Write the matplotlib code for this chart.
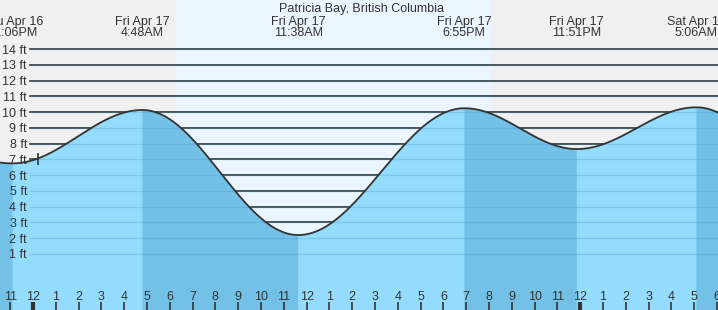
import matplotlib
matplotlib.use('agg')
import matplotlib.pyplot as plt
import numpy as np

plt.rcParams['font.family'] = ['Liberation Sans', 'DejaVu Sans']

# tide extremes, hours from Fri Apr 17 00:00 (first and last are off-chart)
tide_hours = [-7.3, -0.9, 4.8, 11.633, 18.917, 23.85, 29.1, 36.5]
tide_feet = [9.6, 6.75, 10.14, 2.2, 10.25, 7.66, 10.31, 1.8]
tide_days = ['Thu Apr 16', 'Thu Apr 16', 'Fri Apr 17', 'Fri Apr 17',
             'Fri Apr 17', 'Fri Apr 17', 'Sat Apr 18', 'Sat Apr 18']
tide_clock = ['4:40PM', '11:06PM', '4:48AM', '11:38AM',
              '6:55PM', '11:51PM', '5:06AM', '12:30PM']

sunrise = 6.27
sunset = 20.09
now_hour = 0.2
now_feet = 7.0
feet_ticks = list(range(1, 15))
hour_ticks = list(range(-1, 31))

title = 'Patricia Bay, British Columbia'

W, H = 718, 310
x0, px_hr = 33.0, 22.8          # pixel of Fri 00:00, pixels per hour
y0, px_ft = 269.7, 15.75        # pixel of 0 ft, pixels per foot
t_lo, t_hi = -x0 / px_hr, (W - x0) / px_hr
f_lo, f_hi = (y0 - H) / px_ft, y0 / px_ft

def tide_curve(t):
    h = np.zeros_like(t)
    for a, b, ha, hb in zip(tide_hours[:-1], tide_hours[1:], tide_feet[:-1], tide_feet[1:]):
        m = (t >= a) & (t <= b)
        h[m] = ha + (hb - ha) * (1 - np.cos(np.pi * (t[m] - a) / (b - a))) / 2
    return h

def ypx(p):
    # pixel row from the top -> axes fraction
    return 1 - p / H

t = np.linspace(t_lo, t_hi, 3000)
h = tide_curve(t)
falling = np.gradient(h) < 0

fig = plt.figure(figsize=(W / 100, H / 100), dpi=100)
ax = fig.add_axes([0, 0, 1, 1])
ax.set_xlim(t_lo, t_hi)
ax.set_ylim(f_lo, f_hi)
ax.axis('off')
fig.patch.set_facecolor('#f0f0f0')
ax.axvspan(sunrise, sunset, color='#ebf5ff', zorder=0, lw=0)

txt = '#333333'
gx = 30 / W
for f in feet_ticks:
    ax.axhline(f, xmin=gx, xmax=1, color='#333333', lw=1.2, zorder=1)
    ax.text(27 / W, f - 4.5 / px_ft, '%d ft' % f, transform=ax.get_yaxis_transform(),
            ha='right', va='baseline', fontsize=9, color=txt)

ax.fill_between(t, h, f_lo, color='#93dcfd', lw=0, zorder=2)
ax.fill_between(t, h, f_lo, where=falling, color='#73c1e7', lw=0, zorder=2)
for f in feet_ticks:
    ax.axhline(f, xmin=gx, xmax=1, color='#3a8fc0', alpha=0.25, lw=1, zorder=3)
ax.plot(t, h, color='#333333', lw=1.3, zorder=4)
ax.plot([now_hour], [now_feet], marker='|', ms=8, mew=1.2, color='#333333', zorder=5)

xt = ax.get_xaxis_transform()
ax.text((t_lo + t_hi) / 2 + 0.1, ypx(12), title, transform=xt, ha='center',
        va='baseline', fontsize=9, color=txt)
for hr, d, c in zip(tide_hours, tide_days, tide_clock):
    if hr < t_lo - 1 or hr > t_hi + 1:
        continue
    ax.text(hr, ypx(25), d, transform=xt, ha='center', va='baseline', fontsize=9, color=txt)
    ax.text(hr, ypx(36.5), c, transform=xt, ha='center', va='baseline', fontsize=9, color=txt)

for hr in hour_ticks:
    lab = str((hr % 12) or 12)
    ax.text(hr, ypx(300), lab, transform=xt, ha='center', va='baseline', fontsize=9, color=txt)
    thick = hr % 24 == 0
    ax.plot([hr, hr], [0, ypx(302)], transform=xt, color='#333333',
            lw=3 if thick else 1.2, solid_capstyle='butt', zorder=6)

fig.savefig('out.png', dpi=100, facecolor=fig.get_facecolor())
